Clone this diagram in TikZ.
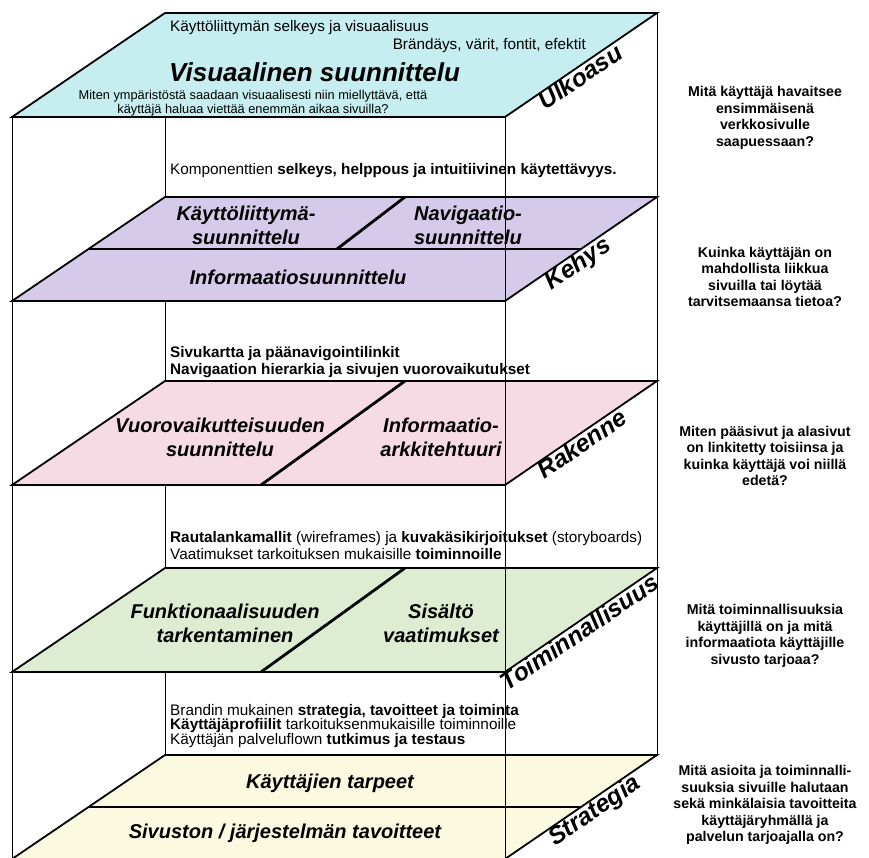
\documentclass[tikz,border=0pt]{standalone}
\usepackage{fontspec}
\setmainfont{Liberation Sans}
\usetikzlibrary{calc}
\definecolor{ulkoFill}{HTML}{C6EEF1}
\definecolor{kehysFill}{HTML}{D5CAE9}
\definecolor{rakenneFill}{HTML}{F6DBE4}
\definecolor{toimFill}{HTML}{DEEDD1}
\definecolor{stratFill}{HTML}{FBFAE1}
\begin{document}
\begin{tikzpicture}[x=1pt,y=-1pt,
  plane/.style={draw=black, line width=1.8pt, line join=miter},
  boxedge/.style={draw=black, line width=0.9pt},
  divider/.style={draw=black, line width=2.8pt},
  body/.style={font=\fontsize{15.3}{17}\selectfont, anchor=west, align=left, inner sep=0pt},
  ptitle/.style={font=\fontsize{20}{24}\selectfont\bfseries\itshape, align=center, inner sep=0pt},
  side/.style={font=\fontsize{24.5}{26}\selectfont\bfseries\itshape, rotate=34.4, anchor=north, inner sep=0pt},
  question/.style={font=\fontsize{14.2}{16.5}\selectfont\bfseries, align=center, inner sep=0pt},
]
\useasboundingbox (0,0) rectangle (869,857);
\clip (0,0) rectangle (869,857);

% corners of the five layers: back-left, back-right, front-right, front-left
\foreach \p/\b in {u/13, k/197, r/381, t/568, s/755}{
  \coordinate (\p BL) at (165,\b);
  \coordinate (\p BR) at (657,\b);
  \coordinate (\p FR) at (505,\b+104);
  \coordinate (\p FL) at (12,\b+104);
}

% hidden and outer edges of the box
\draw[boxedge] (uBL) -- (sBL);
\draw[boxedge] (uBR) -- (sBR);
\draw[boxedge] (uFL) -- (sFL);

% layers
\draw[plane, fill=ulkoFill]    (uBL) -- (uBR) -- (uFR) -- (uFL) -- cycle;
\draw[plane, fill=kehysFill]   (kBL) -- (kBR) -- (kFR) -- (kFL) -- cycle;
\draw[plane, fill=rakenneFill] (rBL) -- (rBR) -- (rFR) -- (rFL) -- cycle;
\draw[plane, fill=toimFill]    (tBL) -- (tBR) -- (tFR) -- (tFL) -- cycle;
\draw[plane, fill=stratFill]   (sBL) -- (sBR) -- (sFR) -- (sFL) -- cycle;

% partitions inside the layers
\draw[divider] ($(kFL)!0.5!(kBL)$) -- ($(kFR)!0.5!(kBR)$);
\draw[divider] (405,197) -- (337,249);
\draw[divider] (405,381) -- (261,485);
\draw[divider] (405,568) -- (261,672);
\draw[divider] ($(sFL)!0.5!(sBL)$) -- ($(sFR)!0.5!(sBR)$);

% front-right edge in front of the layers
\draw[boxedge] (uFR) -- (sFR);

% Ulkoasu layer
\node[body] (u1) at (170,28) {Käyttöliittymän selkeys ja visuaalisuus};
\node[body, anchor=east] (u2) at (586,46) {Brändäys, värit, fontit, efektit};
\node[font=\fontsize{26}{28}\selectfont\bfseries\itshape, anchor=west, inner sep=0pt] (u3) at (169,72) {Visuaalinen suunnittelu};
\node[font=\fontsize{12.8}{14}\selectfont, align=center, inner sep=0pt] (u4) at (253,103)
  {Miten ympäristöstä saadaan visuaalisesti niin miellyttävä, että\\käyttäjä haluaa viettää enemmän aikaa sivuilla?};

% Kehys layer
\node[body] (k0) at (170,171) {Komponenttien \textbf{selkeys, helppous ja intuitiivinen käytettävyys.}};
\node[ptitle] (k1) at (246,225) {Käyttöliittymä-\\suunnittelu};
\node[ptitle] (k2) at (468,225) {Navigaatio-\\suunnittelu};
\node[ptitle] (k3) at (298,277) {Informaatiosuunnittelu};

% Rakenne layer
\node[body, font=\fontsize{15.3}{17}\selectfont\bfseries] (r0) at (170,362)
  {Sivukartta ja päänavigointilinkit\\Navigaation hierarkia ja sivujen vuorovaikutukset};
\node[ptitle] (r1) at (220,437) {Vuorovaikutteisuuden\\suunnittelu};
\node[ptitle] (r2) at (441,437) {Informaatio-\\arkkitehtuuri};

% Toiminnallisuus layer
\node[body] (t0) at (170,546)
  {\textbf{Rautalankamallit} (wireframes) ja \textbf{kuvakäsikirjoitukset} (storyboards)\\Vaatimukset tarkoituksen mukaisille \textbf{toiminnoille}};
\node[ptitle] (t1) at (225,623) {Funktionaalisuuden\\tarkentaminen};
\node[ptitle] (t2) at (441,623) {Sisältö\\vaatimukset};

% Strategia layer
\node[body, font=\fontsize{15.3}{14.5}\selectfont] (s0) at (170,726)
  {Brandin mukainen \textbf{strategia, tavoitteet ja toiminta}\\\textbf{Käyttäjäprofiilit} tarkoituksenmukaisille toiminnoille\\Käyttäjän palveluflown \textbf{tutkimus ja testaus}};
\node[ptitle] (s1) at (330,783) {Käyttäjien tarpeet};
\node[ptitle] (s2) at (285,833) {Sivuston / järjestelmän tavoitteet};

% layer names along the right side
\node[side] (ln1) at ($(uFR)!0.46!(uBR)$) {Ulkoasu};
\node[side] (ln2) at ($(kFR)!0.44!(kBR)$) {Kehys};
\node[side] (ln3) at ($(rFR)!0.47!(rBR)$) {Rakenne};
\node[side] (ln4) at ($(tFR)!0.455!(tBR)$) {Toiminnallisuus};
\node[side] (ln5) at ($(sFR)!0.55!(sBR)$) {Strategia};

% guiding questions
\node[question] (q1) at (765,118) {Mitä käyttäjä havaitsee\\ensimmäisenä\\verkkosivulle\\saapuessaan?};
\node[question] (q2) at (765,277) {Kuinka käyttäjän on\\mahdollista liikkua\\sivuilla tai löytää\\tarvitsemaansa tietoa?};
\node[question] (q3) at (765,456) {Miten pääsivut ja alasivut\\on linkitetty toisiinsa ja\\kuinka käyttäjä voi niillä\\edetä?};
\node[question] (q4) at (765,636) {Mitä toiminnallisuuksia\\käyttäjillä on ja mitä\\informaatiota käyttäjille\\sivusto tarjoaa?};
\node[question] (q5) at (765,805) {Mitä asioita ja toiminnalli-\\suuksia sivuille halutaan\\sekä minkälaisia tavoitteita\\käyttäjäryhmällä ja\\palvelun tarjoajalla on?};
\end{tikzpicture}
\end{document}
